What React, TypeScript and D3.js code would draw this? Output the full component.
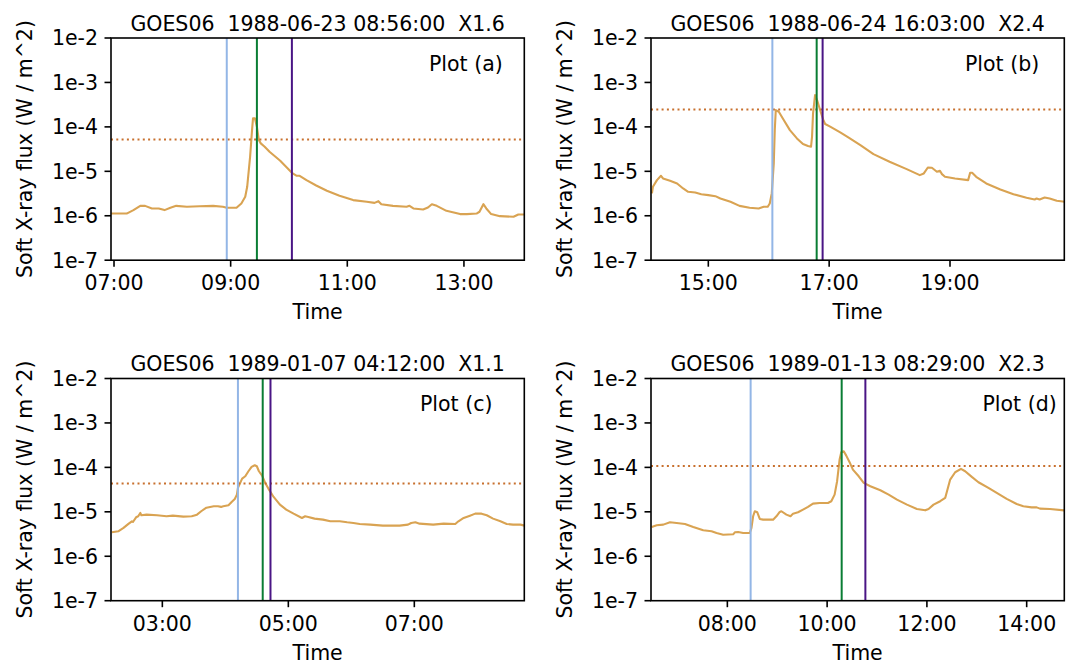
import React from "react";
import * as d3 from "d3";

// ---------- Data ----------
const titles = [
  "GOES06  1988-06-23 08:56:00  X1.6",
  "GOES06  1988-06-24 16:03:00  X2.4",
  "GOES06  1989-01-07 04:12:00  X1.1",
  "GOES06  1989-01-13 08:29:00  X2.3",
];
const plotLabels = ["Plot (a)", "Plot (b)", "Plot (c)", "Plot (d)"];
const dates = ["1988-06-23", "1988-06-24", "1989-01-07", "1989-01-13"];
const xDomains = [
  ["06:56:54", "14:02:06"],
  ["14:03:05", "20:53:30"],
  ["02:11:06", "08:44:45"],
  ["06:28:10", "14:45:15"],
];
const xTickLabels = [
  ["07:00", "09:00", "11:00", "13:00"],
  ["15:00", "17:00", "19:00"],
  ["03:00", "05:00", "07:00"],
  ["08:00", "10:00", "12:00", "14:00"],
];
const yTickValues = [1e-2, 1e-3, 1e-4, 1e-5, 1e-6, 1e-7];
const yTickLabels = ["1e-2", "1e-3", "1e-4", "1e-5", "1e-6", "1e-7"];

// event markers: start, peak (green), end (purple)
const startTimes = ["08:56", "16:03:36", "04:12", "08:28"];
const peakTimes = ["09:27", "16:47:36", "04:35:36", "10:17:30"];
const endTimes = ["10:03", "16:53:30", "04:43", "10:46"];
const thresholds = [5.23e-5, 2.47e-4, 4.31e-5, 1.08e-4];

const aTimes = ["06:57","07:13","07:20","07:27","07:32","07:39","07:46","07:52","07:58","08:04","08:15","08:28","08:42","08:52","08:56","09:06","09:11","09:15","09:17","09:20","09:22","09:23","09:25","09:27","09:29","09:31","09:35","09:40","09:51","10:03","10:08","10:11","10:18","10:28","10:39","10:52","11:06","11:20","11:28","11:32","11:35","11:47","12:01","12:04","12:08","12:18","12:23","12:27","12:32","12:42","12:56","13:03","13:13","13:16","13:20","13:23","13:28","13:37","13:51","13:56","14:02"];
const aFlux = [1.12e-6,1.12e-6,1.34e-6,1.67e-6,1.67e-6,1.46e-6,1.46e-6,1.34e-6,1.51e-6,1.67e-6,1.59e-6,1.64e-6,1.67e-6,1.59e-6,1.51e-6,1.51e-6,1.89e-6,2.67e-6,4.48e-6,2.12e-5,8.47e-5,1.55e-4,1.55e-4,1.01e-4,5.05e-5,4.25e-5,3.57e-5,2.75e-5,1.73e-5,9.27e-6,7.93e-6,7.93e-6,6.33e-6,4.8e-6,3.65e-6,2.81e-6,2.25e-6,2.06e-6,1.95e-6,2.13e-6,1.82e-6,1.67e-6,1.59e-6,1.67e-6,1.46e-6,1.38e-6,1.53e-6,1.82e-6,1.67e-6,1.29e-6,1.09e-6,1.09e-6,1.12e-6,1.23e-6,1.82e-6,1.46e-6,1.09e-6,9.8e-7,9.5e-7,1.07e-6,1.07e-6];

const bTimes = ["14:04","14:05","14:09","14:13","14:15","14:22","14:29","14:35","14:40","14:47","14:53","15:00","15:07","15:12","15:22","15:31","15:41","15:50","15:55","15:59","16:01","16:03","16:05","16:06","16:07","16:10","16:14","16:21","16:28","16:34","16:39","16:42","16:43","16:44","16:46","16:48","16:51","16:54","16:56","17:01","17:11","17:19","17:31","17:44","18:00","18:17","18:30","18:34","18:38","18:42","18:47","18:50","18:52","18:55","19:05","19:18","19:20","19:22","19:26","19:36","19:50","20:03","20:16","20:24","20:26","20:29","20:34","20:39","20:46","20:54"];
const bFlux = [3.18e-6,4.48e-6,6.34e-6,7.93e-6,6.9e-6,6.12e-6,5.33e-6,4.11e-6,3.46e-6,3.34e-6,3.06e-6,2.91e-6,2.76e-6,2.45e-6,2.06e-6,1.67e-6,1.51e-6,1.46e-6,1.59e-6,1.59e-6,1.89e-6,3.18e-6,1.5e-5,8.47e-5,2.39e-4,2.19e-4,1.55e-4,8.47e-5,5.5e-5,4.1e-5,3.7e-5,3.57e-5,6.0e-5,2.01e-4,5.2e-4,4.02e-4,2.39e-4,1.47e-4,1.16e-4,1.01e-4,7.5e-5,5.79e-5,3.89e-5,2.44e-5,1.64e-5,1.12e-5,8.2e-6,8.95e-6,1.22e-5,1.2e-5,9.76e-6,1.03e-5,8.64e-6,7.53e-6,6.9e-6,6.34e-6,9.27e-6,9.27e-6,7.53e-6,5.33e-6,3.91e-6,3.06e-6,2.54e-6,2.32e-6,2.45e-6,2.32e-6,2.58e-6,2.45e-6,2.17e-6,2.06e-6];

const cTimes = ["02:12","02:18","02:23","02:28","02:31","02:32","02:35","02:37","02:39","02:40","02:45","02:55","03:04","03:10","03:20","03:28","03:33","03:37","03:42","03:49","03:53","03:56","03:58","04:03","04:06","04:09","04:11","04:12","04:16","04:19","04:22","04:25","04:28","04:30","04:32","04:35","04:38","04:41","04:46","04:52","04:58","05:05","05:13","05:16","05:19","05:25","05:33","05:40","05:49","05:56","06:02","06:08","06:18","06:30","06:46","06:54","06:57","07:01","07:05","07:18","07:28","07:39","07:42","07:47","07:53","07:58","08:04","08:09","08:15","08:22","08:28","08:34","08:41","08:45"];
const cFlux = [3.46e-6,3.65e-6,4.34e-6,5.42e-6,6.12e-6,5.91e-6,7.53e-6,7.93e-6,9.42e-6,8.35e-6,8.64e-6,8.35e-6,7.93e-6,8.2e-6,7.8e-6,7.93e-6,8.64e-6,1.03e-5,1.24e-5,1.33e-5,1.33e-5,1.29e-5,1.33e-5,1.4e-5,1.67e-5,1.95e-5,2.44e-5,3.45e-5,5.6e-5,6.31e-5,8.18e-5,1.03e-4,1.12e-4,1.06e-4,8.18e-5,6.53e-5,4.47e-5,3.33e-5,2.16e-5,1.45e-5,1.12e-5,9.1e-6,7.28e-6,7.93e-6,7.66e-6,7.03e-6,6.67e-6,6.12e-6,6.12e-6,5.81e-6,5.61e-6,5.33e-6,5.15e-6,4.89e-6,4.89e-6,5.15e-6,5.61e-6,5.81e-6,5.42e-6,5.15e-6,5.42e-6,5.33e-6,6.12e-6,7.28e-6,8.2e-6,9.1e-6,9.1e-6,8.35e-6,7.03e-6,6.12e-6,5.33e-6,5.15e-6,5.15e-6,4.89e-6];

const dTimes = ["06:29","06:35","06:43","06:51","06:59","07:09","07:19","07:31","07:41","07:47","07:55","08:07","08:09","08:13","08:19","08:27","08:29","08:31","08:33","08:36","08:39","08:43","08:55","08:59","09:03","09:05","09:11","09:16","09:19","09:25","09:31","09:37","09:43","09:51","10:01","10:05","10:09","10:12","10:15","10:17","10:20","10:23","10:27","10:31","10:38","10:44","10:52","11:04","11:14","11:24","11:36","11:48","11:58","12:02","12:08","12:16","12:22","12:28","12:34","12:41","12:46","12:54","13:02","13:14","13:24","13:36","13:48","13:56","14:06","14:12","14:16","14:28","14:45"];
const dFlux = [4.56e-6,4.97e-6,5.15e-6,5.81e-6,5.61e-6,5.33e-6,4.56e-6,3.84e-6,3.65e-6,3.34e-6,3.06e-6,3.12e-6,3.46e-6,3.52e-6,3.34e-6,3.34e-6,4.34e-6,7.93e-6,1.03e-5,9.76e-6,6.9e-6,6.67e-6,6.67e-6,7.93e-6,9.93e-6,1.03e-5,8.64e-6,7.93e-6,9.1e-6,9.76e-6,1.12e-5,1.29e-5,1.53e-5,1.58e-5,1.58e-5,1.73e-5,2.44e-5,4.88e-5,1.5e-4,2.19e-4,2.31e-4,1.84e-4,1.31e-4,8.92e-5,6.31e-5,4.47e-5,3.76e-5,3.05e-5,2.44e-5,1.88e-5,1.45e-5,1.16e-5,1.08e-5,1.16e-5,1.45e-5,1.73e-5,2.05e-5,5.31e-5,7.76e-5,9.23e-5,8.18e-5,6.1e-5,4.62e-5,3.45e-5,2.66e-5,1.95e-5,1.5e-5,1.33e-5,1.26e-5,1.26e-5,1.18e-5,1.16e-5,1.08e-5];

const seriesTimes = [aTimes, bTimes, cTimes, dTimes];
const seriesFlux = [aFlux, bFlux, cFlux, dFlux];

// ---------- Layout ----------
const W = 1073;
const H = 664;
const FONT = "'DejaVu Sans', sans-serif";
const FS = 20.5;
const panelLeft = [111, 651, 111, 651];
const panelTop = [38, 38, 378.5, 378.5];
const panelW = 413.3;
const panelH = 222.2;
const labelOffsetX = [318, 314, 309, 331.5];

const curveColor = "#d9a352";
const thresholdColor = "#c8702e";
const startColor = "#93b6e6";
const peakColor = "#0a7d34";
const endColor = "#4a1585";

const toDate = (date: string, t: string) => {
  const parts = t.split(":");
  const s = parts.length === 2 ? `${t}:00` : t;
  return new Date(`${date}T${s}`);
};

function Panel({ i }: { i: number }) {
  const date = dates[i];
  const x0 = panelLeft[i];
  const y0 = panelTop[i];
  const x = d3
    .scaleTime()
    .domain([toDate(date, xDomains[i][0]), toDate(date, xDomains[i][1])])
    .range([x0, x0 + panelW]);
  const y = d3.scaleLog().domain([1e-7, 1e-2]).range([y0 + panelH, y0]);
  const fmt = d3.timeFormat("%H:%M");
  const pts = seriesTimes[i].map((t, k) => [toDate(date, t), seriesFlux[i][k]] as [Date, number]);
  const line = d3
    .line<[Date, number]>()
    .x((d) => x(d[0]))
    .y((d) => y(d[1]));
  const xTicks = xTickLabels[i].map((t) => toDate(date, t));
  const clipId = `clip${i}`;
  const vlines = [
    { t: startTimes[i], c: startColor },
    { t: peakTimes[i], c: peakColor },
    { t: endTimes[i], c: endColor },
  ];
  const cx = x0 + panelW / 2;
  return (
    <g>
      <defs>
        <clipPath id={clipId}>
          <rect x={x0} y={y0} width={panelW} height={panelH} />
        </clipPath>
      </defs>
      <g clipPath={`url(#${clipId})`}>
        <path d={line(pts) || ""} fill="none" stroke={curveColor} strokeWidth={2.1} strokeLinejoin="round" />
        <line
          x1={x0}
          x2={x0 + panelW}
          y1={y(thresholds[i])}
          y2={y(thresholds[i])}
          stroke={thresholdColor}
          strokeWidth={2}
          strokeDasharray="2,3.3"
        />
        {vlines.map((v, k) => (
          <line
            key={k}
            x1={x(toDate(date, v.t))}
            x2={x(toDate(date, v.t))}
            y1={y0}
            y2={y0 + panelH}
            stroke={v.c}
            strokeWidth={2}
          />
        ))}
      </g>
      <rect x={x0} y={y0} width={panelW} height={panelH} fill="none" stroke="#000" strokeWidth={1.6} />
      {yTickValues.map((v, k) => (
        <g key={k}>
          <line x1={x0 - 6.5} x2={x0} y1={y(v)} y2={y(v)} stroke="#000" strokeWidth={1.6} />
          <text
            x={x0 - 13}
            y={y(v)}
            dy="0.36em"
            textAnchor="end"
            fontFamily={FONT}
            fontSize={FS}
            fill="#000"
          >
            {yTickLabels[k]}
          </text>
        </g>
      ))}
      {xTicks.map((d, k) => (
        <g key={k}>
          <line x1={x(d)} x2={x(d)} y1={y0 + panelH} y2={y0 + panelH + 6.5} stroke="#000" strokeWidth={1.6} />
          <text
            x={x(d)}
            y={y0 + panelH + 30}
            textAnchor="middle"
            fontFamily={FONT}
            fontSize={FS}
            fill="#000"
          >
            {fmt(d)}
          </text>
        </g>
      ))}
      <text x={cx} y={y0 + panelH + 59} textAnchor="middle" fontFamily={FONT} fontSize={FS} fill="#000">
        Time
      </text>
      <text
        transform={`translate(${x0 - 79},${y0 + panelH / 2}) rotate(-90)`}
        textAnchor="middle"
        fontFamily={FONT}
        fontSize={FS}
        fill="#000"
      >
        Soft X-ray flux (W / m^2)
      </text>
      <text
        x={cx}
        y={y0 - 7.5}
        textAnchor="middle"
        fontFamily={FONT}
        fontSize={FS}
        fill="#000"
        xmlSpace="preserve"
        style={{ whiteSpace: "pre" }}
      >
        {titles[i]}
      </text>
      <text x={x0 + labelOffsetX[i]} y={y0 + 32.5} textAnchor="start" fontFamily={FONT} fontSize={FS} fill="#000">
        {plotLabels[i]}
      </text>
    </g>
  );
}

export default function App() {
  return (
    <svg
      width={W}
      height={H}
      viewBox={`0 0 ${W} ${H}`}
      style={{ position: "absolute", left: 0, top: 0, background: "#fff" }}
    >
      <rect x={0} y={0} width={W} height={H} fill="#fff" />
      {[0, 1, 2, 3].map((i) => (
        <Panel key={i} i={i} />
      ))}
    </svg>
  );
}
